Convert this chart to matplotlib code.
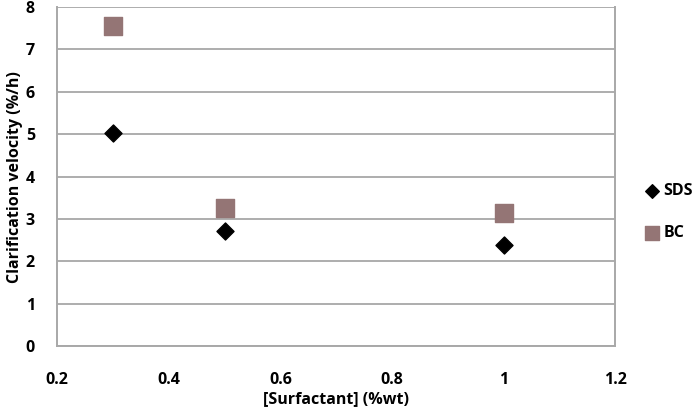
import matplotlib.pyplot as plt

# Data
conc = [0.3, 0.5, 1.0]
sds = [5.02, 2.72, 2.38]
bc = [7.56, 3.26, 3.15]

xticks = [0.2, 0.4, 0.6, 0.8, 1, 1.2]
xticklabels = ["0.2", "0.4", "0.6", "0.8", "1", "1.2"]
yticks = [0, 1, 2, 3, 4, 5, 6, 7, 8]

plt.rcParams["font.family"] = ["Open Sans", "DejaVu Sans"]

fig = plt.figure(figsize=(6.96, 4.17), dpi=100)
ax = fig.add_axes([0.082, 0.170, 0.802, 0.813])

ax.scatter(conc, sds, marker="D", s=75, color="black", label="SDS", zorder=3)
ax.scatter(conc, bc, marker="s", s=150, color="#947575", label="BC", zorder=3)

ax.set_xlim(0.2, 1.2)
ax.set_ylim(0, 8)
ax.set_xticks(xticks)
ax.set_xticklabels(xticklabels)
ax.set_yticks(yticks)
ax.grid(True, axis="y", color="#a0a0a0", linewidth=1.2)
ax.set_axisbelow(True)
for s in ax.spines.values():
    s.set_color("#a8a8a8")
    s.set_linewidth(1.4)
ax.spines["top"].set_visible(False)
ax.tick_params(length=0, labelsize=11.5)
ax.tick_params(axis="x", pad=19)
ax.tick_params(axis="y", pad=16)
for lab in ax.get_xticklabels() + ax.get_yticklabels():
    lab.set_fontweight("bold")

ax.set_xlabel("[Surfactant] (%wt)", fontsize=11.5, fontweight="bold", labelpad=2)
ax.set_ylabel("Clarification velocity (%/h)", fontsize=11.5, fontweight="bold", labelpad=2)

ax.legend(loc="center left", bbox_to_anchor=(636 / 696, 1 - 212 / 417),
          bbox_transform=fig.transFigure, frameon=False, borderpad=0,
          handlelength=1.0, handletextpad=0.2, labelspacing=1.6,
          prop={"weight": "bold", "size": 11.5}, markerscale=0.8)

fig.savefig("out.png", dpi=100)
